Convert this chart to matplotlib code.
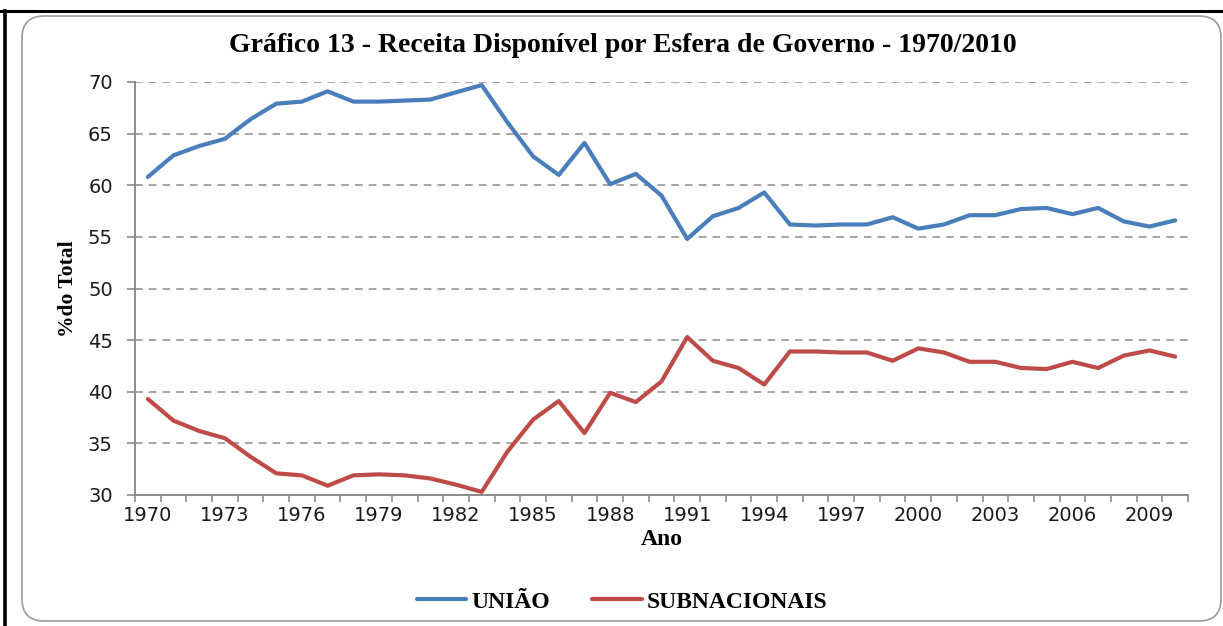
"""Gráfico 13 - Receita Disponível por Esfera de Governo - 1970/2010 (redraw)."""

import matplotlib

matplotlib.use("Agg")
import matplotlib.pyplot as plt  # noqa: E402
from matplotlib.patches import FancyBboxPatch  # noqa: E402

# ---- data (% do total) ------------------------------------------------------
ANOS = list(range(1970, 2011))
UNIAO = [
    60.8, 62.9, 63.8, 64.5, 66.4, 67.9, 68.1, 69.1, 68.1, 68.1,
    68.2, 68.3, 69.0, 69.7, 66.1, 62.8, 61.0, 64.1, 60.1, 61.1,
    59.0, 54.8, 57.0, 57.8, 59.3, 56.2, 56.1, 56.2, 56.2, 56.9,
    55.8, 56.2, 57.1, 57.1, 57.7, 57.8, 57.2, 57.8, 56.5, 56.0,
    56.6,
]
SUBNACIONAIS = [
    39.3, 37.2, 36.2, 35.5, 33.7, 32.1, 31.9, 30.9, 31.9, 32.0,
    31.9, 31.6, 31.0, 30.3, 34.2, 37.3, 39.1, 36.0, 39.9, 39.0,
    41.0, 45.3, 43.0, 42.3, 40.7, 43.9, 43.9, 43.8, 43.8, 43.0,
    44.2, 43.8, 42.9, 42.9, 42.3, 42.2, 42.9, 42.3, 43.5, 44.0,
    43.4,
]
ANOS_ROTULO = list(range(1970, 2011, 3))
Y_TICKS = list(range(30, 71, 5))

BLUE, RED, GRID, INK = "#4a7ebb", "#be4b48", "#8c8c8c", "#1a1a1a"
SERIF = ["Liberation Serif", "DejaVu Serif"]

W, H = 1223, 626
fig = plt.figure(figsize=(W / 100, H / 100), dpi=100)

# background frame (pixel coordinates, origin top-left)
bg = fig.add_axes([0, 0, 1, 1], zorder=-1)
bg.set_xlim(0, W)
bg.set_ylim(H, 0)
bg.axis("off")
bg.add_patch(FancyBboxPatch((22, 16), 1199, 605, boxstyle="round,pad=0,rounding_size=22",
                            fc="white", ec="#9a9a9a", lw=1.2))
bg.plot([0, W], [11, 11], color="black", lw=2.2)
bg.plot([5, 5], [11, H], color="black", lw=2.6)

ax = fig.add_axes([135 / W, 1 - 495 / H, (1188 - 135) / W, (495 - 82) / H])
ax.set_facecolor("none")
ax.plot(ANOS, UNIAO, color=BLUE, lw=3.0, solid_capstyle="round", solid_joinstyle="round", label="UNIÃO")
ax.plot(ANOS, SUBNACIONAIS, color=RED, lw=3.0, solid_capstyle="round", solid_joinstyle="round",
        label="SUBNACIONAIS")

ax.set_xlim(ANOS[0] - 0.5, ANOS[-1] + 0.5)
ax.set_ylim(30, 70)
ax.set_yticks(Y_TICKS)
ax.set_xticks(ANOS_ROTULO)
ax.set_xticks([a - 0.5 for a in ANOS] + [ANOS[-1] + 0.5], minor=True)
ax.tick_params(axis="x", which="major", length=0, pad=8, labelsize=14, labelcolor=INK)
ax.tick_params(axis="x", which="minor", length=5, color=GRID, width=1.2)
ax.tick_params(axis="y", length=6, color=GRID, width=1.2, labelsize=14, labelcolor=INK, pad=10)
ax.yaxis.grid(True, ls=(0, (5, 4)), color=GRID, lw=1.1)
ax.set_axisbelow(True)
ax.spines[["top", "right"]].set_visible(False)
ax.spines[["left", "bottom"]].set_color(GRID)
ax.spines[["left", "bottom"]].set_linewidth(1.4)

ax.set_ylabel("%do Total", family=SERIF, fontweight="bold", fontsize=15.5, labelpad=7)
ax.set_xlabel("Ano", family=SERIF, fontweight="bold", fontsize=17, labelpad=3)
fig.text(623 / W, 1 - 45 / H, "Gráfico 13 - Receita Disponível por Esfera de Governo - 1970/2010",
         family=SERIF, fontweight="bold", fontsize=20, ha="center", va="center")

leg = ax.legend(loc="center", bbox_to_anchor=(622 / W, 1 - 602 / H), bbox_transform=fig.transFigure,
                ncol=2, frameon=False, handlelength=2.1, columnspacing=1.8, handletextpad=0.2,
                prop={"family": SERIF, "weight": "bold", "size": 17})

fig.savefig("out.png", dpi=100)
